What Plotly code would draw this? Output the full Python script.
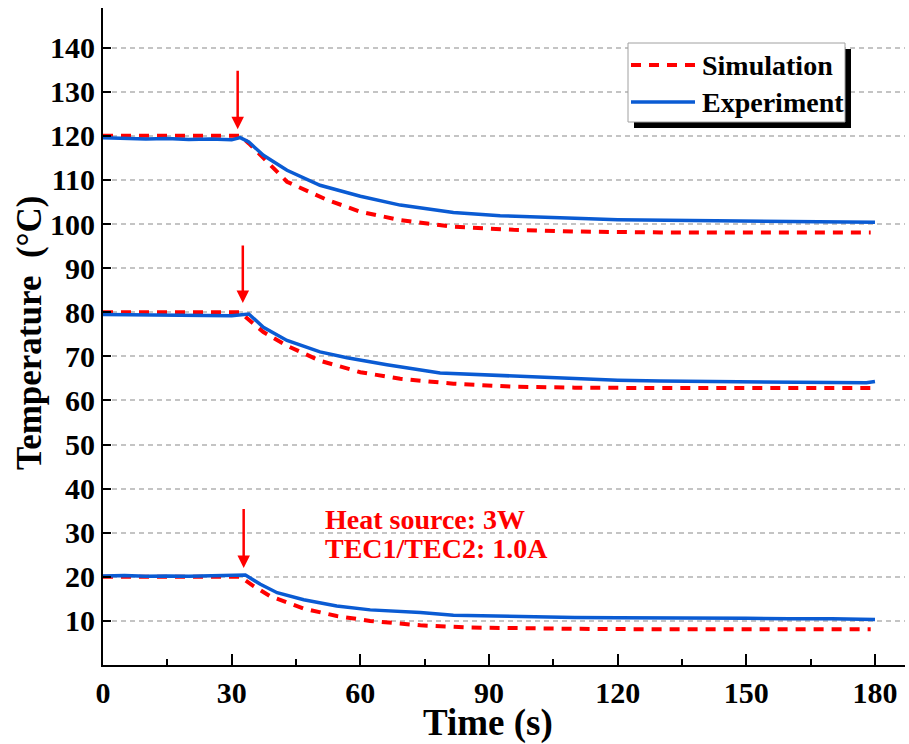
import plotly.graph_objects as go

# ---------------- data ----------------
sim_hi_t = [0, 32, 34, 37.4, 42.9, 52.2, 60, 69.3, 81.7, 95.7, 110, 130, 150, 179]
sim_hi_T = [120, 120, 118.3, 114.9, 109.6, 105.5, 102.8, 100.9, 99.4, 98.7, 98.3, 98.1, 98.1, 98.1]
exp_hi_t = [0, 5, 10, 15, 20, 25, 30, 32, 34, 37.4, 42.9, 50.6, 60, 69.3, 81.7, 92.6, 100, 110, 120, 130, 140, 150, 160, 170, 180]
exp_hi_T = [119.6, 119.5, 119.3, 119.4, 119.2, 119.3, 119.1, 119.6, 118.6, 115.6, 112.2, 108.8, 106.3, 104.3, 102.6, 101.9, 101.6, 101.3, 101.0, 100.9, 100.8, 100.8, 100.7, 100.6, 100.4]

sim_mid_t = [0, 32, 34, 37.4, 42.9, 50.6, 60, 69.3, 81.7, 95.7, 110, 130, 179]
sim_mid_T = [80, 80, 78.3, 75.5, 72.4, 69.0, 66.4, 64.9, 63.8, 63.1, 62.9, 62.8, 62.8]
exp_mid_t = [0, 10, 20, 30, 34, 37.4, 42.9, 50.6, 56.9, 66.2, 78.6, 95.7, 110, 120, 130, 140, 150, 160, 170, 178, 180]
exp_mid_T = [79.5, 79.4, 79.3, 79.2, 79.6, 76.6, 73.6, 71.0, 69.7, 68.1, 66.2, 65.5, 65.0, 64.6, 64.4, 64.3, 64.2, 64.2, 64.1, 64.0, 64.3]

sim_lo_t = [0, 32, 35.1, 39, 46.8, 54.5, 62.3, 74, 85.6, 95.7, 110, 130, 179]
sim_lo_T = [20, 20, 17.9, 15.6, 12.8, 11.1, 10.0, 9.0, 8.5, 8.3, 8.2, 8.1, 8.1]
exp_lo_t = [0, 5, 10, 15, 20, 25, 30, 33.2, 36.7, 40.6, 46.8, 54.5, 62.3, 74, 81.7, 95.7, 110, 120, 130, 140, 150, 160, 170, 180]
exp_lo_T = [20.2, 20.3, 20.1, 20.2, 20.1, 20.2, 20.3, 20.4, 18.3, 16.4, 14.8, 13.4, 12.5, 11.9, 11.3, 11.0, 10.8, 10.7, 10.7, 10.6, 10.6, 10.5, 10.5, 10.3]

arrow_t = [31.4, 32.6, 32.8]
arrow_head_T = [121.5, 82.1, 22.0]
arrow_tail_T = [135.1, 95.5, 35.7]

x_ticks = [0, 30, 60, 90, 120, 150, 180]
y_ticks = [10, 20, 30, 40, 50, 60, 70, 80, 90, 100, 110, 120, 130, 140]

note_lines = ["Heat source: 3W", "TEC1/TEC2: 1.0A"]
note_t = 51.3
note_T = [32.9, 26.5]

RED = "#ff0000"
BLUE = "#0a5bd3"
FONT = "Liberation Serif"

fig = go.Figure()

for t, T in [(sim_hi_t, sim_hi_T), (sim_mid_t, sim_mid_T), (sim_lo_t, sim_lo_T)]:
    fig.add_trace(go.Scatter(x=t, y=T, mode="lines", name="Simulation", showlegend=False,
                             line=dict(color=RED, width=4, dash="10px,8px")))
for t, T in [(exp_hi_t, exp_hi_T), (exp_mid_t, exp_mid_T), (exp_lo_t, exp_lo_T)]:
    fig.add_trace(go.Scatter(x=t, y=T, mode="lines", name="Experiment", showlegend=False,
                             line=dict(color=BLUE, width=3.5)))

# arrows
for t, yh, yt in zip(arrow_t, arrow_head_T, arrow_tail_T):
    fig.add_annotation(x=t, y=yh, ax=t, ay=yt, xref="x", yref="y", axref="x", ayref="y",
                       text="", showarrow=True, arrowhead=2, arrowsize=1, arrowwidth=2.5,
                       arrowcolor=RED, standoff=0)

for txt, yv in zip(note_lines, note_T):
    fig.add_annotation(x=note_t, y=yv, xref="x", yref="y", text=txt, showarrow=False,
                       xanchor="left", yanchor="middle",
                       font=dict(family=FONT, size=28, color=RED, weight="bold"))

# manual legend with shadow
L, R, TOP, BOT = 103, 905, 8, 665
def px(x):
    return (x - L) / (R - L)
def py(y):
    return (BOT - y) / (BOT - TOP)

fig.add_shape(type="rect", xref="paper", yref="paper", x0=px(634), x1=px(851), y0=py(128), y1=py(49),
              fillcolor="black", line=dict(width=0), layer="above")
fig.add_shape(type="rect", xref="paper", yref="paper", x0=px(628), x1=px(845), y0=py(122), y1=py(43),
              fillcolor="white", line=dict(color="#a0a0a0", width=1), layer="above")
legend_items = [("Simulation", RED, "10px,8px", 65), ("Experiment", BLUE, "solid", 102)]
for name, col, dash, yy in legend_items:
    fig.add_shape(type="line", xref="paper", yref="paper", x0=px(631), x1=px(695), y0=py(yy), y1=py(yy),
                  line=dict(color=col, width=4 if dash != "solid" else 3.5, dash=dash), layer="above")
    fig.add_annotation(x=px(700), y=py(yy), xref="paper", yref="paper", text=name, showarrow=False,
                       xanchor="left", yanchor="middle",
                       font=dict(family=FONT, size=28, color="black", weight="bold"))

# axis titles placed as annotations for exact positioning
fig.add_annotation(x=px(488), y=py(723), xref="paper", yref="paper", text="Time (s)", showarrow=False,
                   xanchor="center", yanchor="middle",
                   font=dict(family=FONT, size=37, color="black", weight="bold"))
fig.add_annotation(x=px(29), y=py(333), xref="paper", yref="paper", text="Temperature  (°C)",
                   showarrow=False, textangle=-90, xanchor="center", yanchor="middle",
                   font=dict(family=FONT, size=35, color="black", weight="bold"))

tickfont = dict(family=FONT, size=30, color="black", weight="bold")
fig.update_xaxes(range=[0, 187], tickvals=x_ticks, ticks="inside", ticklen=11, tickwidth=2,
                 tickcolor="black", showline=True, linecolor="black", linewidth=2,
                 showgrid=False, zeroline=False, tickfont=tickfont, automargin=False,
                 minor=dict(dtick=15, tick0=0, ticks="inside", ticklen=6, tickwidth=2, tickcolor="black", showgrid=False))
fig.update_yaxes(range=[0, 149], tickvals=y_ticks, ticks="inside", ticklen=8, tickwidth=2,
                 tickcolor="black", showline=True, linecolor="black", linewidth=2,
                 showgrid=True, gridcolor="#c4c4c4", gridwidth=1.5, griddash="5px,4px",
                 zeroline=False, tickfont=tickfont, automargin=False)

fig.update_layout(width=909, height=744, margin=dict(l=103, r=4, t=8, b=79),
                  plot_bgcolor="white", paper_bgcolor="white", showlegend=False)

fig.write_html("out.html", config={"displayModeBar": False},
               post_script="document.body.style.margin='0';")
